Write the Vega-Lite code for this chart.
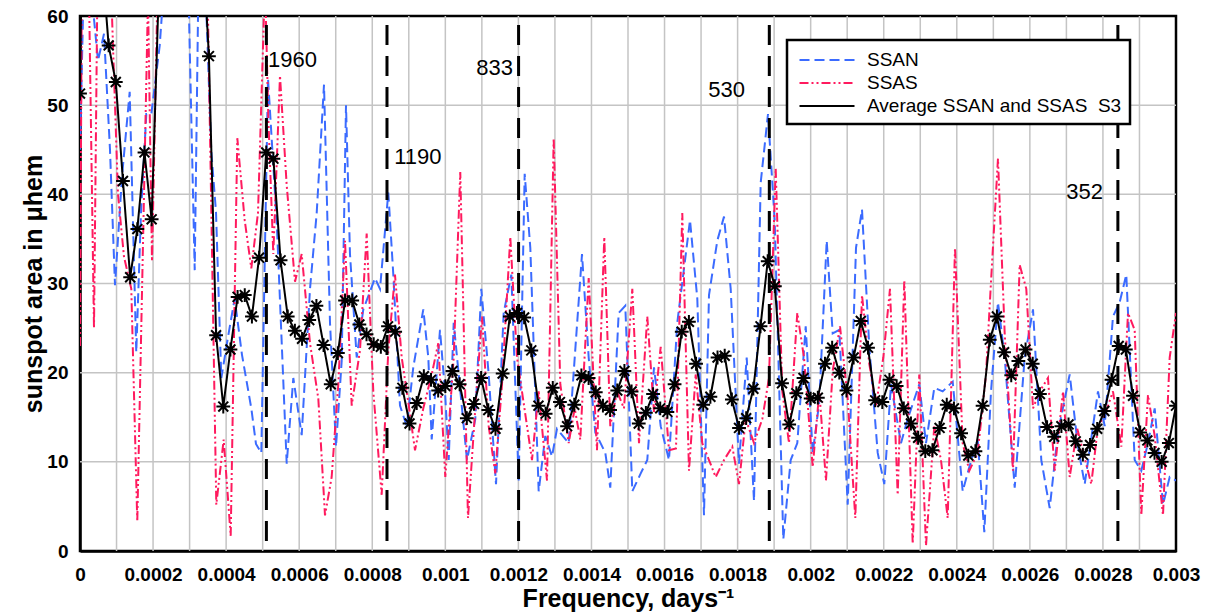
{
  "$schema": "https://vega.github.io/schema/vega-lite/v6.json",
  "width": 1096,
  "height": 535,
  "autosize": {"type": "none"},
  "padding": {"left": 80, "top": 16, "right": 39, "bottom": 64},
  "background": "white",
  "config": {
    "font": "Liberation Sans",
    "view": {"stroke": "black", "strokeWidth": 2.5},
    "axis": {
      "grid": false,
      "ticks": false,
      "domainColor": "black",
      "domainWidth": 2.5,
      "labelFont": "Liberation Sans",
      "labelFontSize": 19,
      "labelFontWeight": "bold",
      "labelColor": "black",
      "titleFont": "Liberation Sans",
      "titleFontSize": 25,
      "titleFontWeight": "bold",
      "titleColor": "black"
    },
    "legend": {
      "orient": "none",
      "legendX": 707,
      "legendY": 24,
      "strokeColor": "black",
      "strokeWidth": 2.5,
      "fillColor": "white",
      "padding": 8,
      "symbolType": "M-2.5,0L2.5,0",
      "symbolSize": 484,
      "symbolStrokeWidth": 2,
      "symbolOffset": 20,
      "labelOffset": 28,
      "labelFont": "Liberation Sans",
      "labelFontSize": 19,
      "labelColor": "black",
      "labelLimit": 400,
      "rowPadding": 1
    }
  },
  "datasets": {
    "gridX": [
      {"f":0.0001},{"f":0.0002},{"f":0.0003},{"f":0.0004},{"f":0.0005},{"f":0.0006},{"f":0.0007},{"f":0.0008},{"f":0.0009},{"f":0.001},{"f":0.0011},{"f":0.0012},{"f":0.0013},{"f":0.0014},{"f":0.0015},{"f":0.0016},{"f":0.0017},{"f":0.0018},{"f":0.0019},{"f":0.002},{"f":0.0021},{"f":0.0022},{"f":0.0023},{"f":0.0024},{"f":0.0025},{"f":0.0026},{"f":0.0027},{"f":0.0028},{"f":0.0029}
    ],
    "gridY": [{"v":10},{"v":20},{"v":30},{"v":40},{"v":50}],
    "all": [
      {"s":"SSAN","f":0,"v":45},{"s":"SSAN","f":0.0000137,"v":70},{"s":"SSAN","f":0.0000328,"v":62},{"s":"SSAN","f":0.0000493,"v":55},{"s":"SSAN","f":0.0000657,"v":58},{"s":"SSAN","f":0.0000821,"v":45},{"s":"SSAN","f":0.0000958,"v":29.8},{"s":"SSAN","f":0.000115,"v":42},{"s":"SSAN","f":0.000136,"v":51.5},{"s":"SSAN","f":0.000154,"v":22.3},{"s":"SSAN","f":0.000167,"v":38},{"s":"SSAN","f":0.0001815,"v":49},{"s":"SSAN","f":0.0001952,"v":49},{"s":"SSAN","f":0.0002182,"v":56.7},{"s":"SSAN","f":0.000241,"v":70},{"s":"SSAN","f":0.0002737,"v":75},{"s":"SSAN","f":0.0002984,"v":60},{"s":"SSAN","f":0.000314,"v":31.5},{"s":"SSAN","f":0.000323,"v":60},{"s":"SSAN","f":0.0003394,"v":68},{"s":"SSAN","f":0.0003594,"v":44.8},{"s":"SSAN","f":0.0003723,"v":38},{"s":"SSAN","f":0.0003868,"v":19.4},{"s":"SSAN","f":0.0004051,"v":24},{"s":"SSAN","f":0.0004234,"v":28.3},{"s":"SSAN","f":0.0004434,"v":22},{"s":"SSAN","f":0.0004689,"v":16},{"s":"SSAN","f":0.0004817,"v":12},{"s":"SSAN","f":0.0004963,"v":11},{"s":"SSAN","f":0.0005146,"v":53},{"s":"SSAN","f":0.0005384,"v":37},{"s":"SSAN","f":0.0005658,"v":9.8},{"s":"SSAN","f":0.0005839,"v":19.4},{"s":"SSAN","f":0.0006068,"v":13},{"s":"SSAN","f":0.0006296,"v":29.4},{"s":"SSAN","f":0.0006479,"v":37.9},{"s":"SSAN","f":0.0006679,"v":52.3},{"s":"SSAN","f":0.0006843,"v":25.6},{"s":"SSAN","f":0.0007007,"v":11.7},{"s":"SSAN","f":0.0007163,"v":21.3},{"s":"SSAN","f":0.0007281,"v":50},{"s":"SSAN","f":0.000739,"v":33.3},{"s":"SSAN","f":0.0007574,"v":21.7},{"s":"SSAN","f":0.0007755,"v":27.1},{"s":"SSAN","f":0.0008075,"v":30.6},{"s":"SSAN","f":0.0008212,"v":29.4},{"s":"SSAN","f":0.0008439,"v":40.2},{"s":"SSAN","f":0.0008576,"v":31},{"s":"SSAN","f":0.0008759,"v":16.3},{"s":"SSAN","f":0.0008943,"v":14},{"s":"SSAN","f":0.0009123,"v":20.6},{"s":"SSAN","f":0.0009397,"v":27.1},{"s":"SSAN","f":0.0009534,"v":21.7},{"s":"SSAN","f":0.0009627,"v":12.5},{"s":"SSAN","f":0.0009854,"v":24.8},{"s":"SSAN","f":0.0009991,"v":17.9},{"s":"SSAN","f":0.0010092,"v":10.2},{"s":"SSAN","f":0.0010229,"v":25.6},{"s":"SSAN","f":0.0010593,"v":10.2},{"s":"SSAN","f":0.001082,"v":14.8},{"s":"SSAN","f":0.0010984,"v":29.4},{"s":"SSAN","f":0.0011187,"v":19.8},{"s":"SSAN","f":0.0011387,"v":7.5},{"s":"SSAN","f":0.0011597,"v":26.7},{"s":"SSAN","f":0.0011806,"v":31},{"s":"SSAN","f":0.0012008,"v":7.9},{"s":"SSAN","f":0.0012172,"v":42.3},{"s":"SSAN","f":0.0012326,"v":34},{"s":"SSAN","f":0.0012555,"v":6.7},{"s":"SSAN","f":0.0012736,"v":12.9},{"s":"SSAN","f":0.001292,"v":10.6},{"s":"SSAN","f":0.0013056,"v":13.7},{"s":"SSAN","f":0.0013377,"v":12.1},{"s":"SSAN","f":0.0013741,"v":33.3},{"s":"SSAN","f":0.0013924,"v":21.7},{"s":"SSAN","f":0.0014105,"v":13.3},{"s":"SSAN","f":0.0014379,"v":11},{"s":"SSAN","f":0.0014515,"v":7.1},{"s":"SSAN","f":0.0014745,"v":26.7},{"s":"SSAN","f":0.0014926,"v":27.5},{"s":"SSAN","f":0.0015118,"v":6.7},{"s":"SSAN","f":0.0015348,"v":8.7},{"s":"SSAN","f":0.0015528,"v":10.2},{"s":"SSAN","f":0.0015712,"v":20.6},{"s":"SSAN","f":0.0015895,"v":14},{"s":"SSAN","f":0.0016122,"v":10.2},{"s":"SSAN","f":0.0016349,"v":25.6},{"s":"SSAN","f":0.0016697,"v":37.1},{"s":"SSAN","f":0.0016897,"v":28.3},{"s":"SSAN","f":0.001708,"v":4},{"s":"SSAN","f":0.0017217,"v":28.7},{"s":"SSAN","f":0.0017444,"v":34.8},{"s":"SSAN","f":0.0017628,"v":37.5},{"s":"SSAN","f":0.0017811,"v":29.4},{"s":"SSAN","f":0.0018038,"v":9.8},{"s":"SSAN","f":0.0018249,"v":21.7},{"s":"SSAN","f":0.0018449,"v":5.6},{"s":"SSAN","f":0.0018632,"v":41.3},{"s":"SSAN","f":0.0018832,"v":49},{"s":"SSAN","f":0.0019015,"v":37.1},{"s":"SSAN","f":0.0019251,"v":1.3},{"s":"SSAN","f":0.0019453,"v":10.2},{"s":"SSAN","f":0.0019634,"v":12.1},{"s":"SSAN","f":0.0019864,"v":25.2},{"s":"SSAN","f":0.0020056,"v":11},{"s":"SSAN","f":0.0020236,"v":16.7},{"s":"SSAN","f":0.0020439,"v":34.8},{"s":"SSAN","f":0.0020603,"v":24.4},{"s":"SSAN","f":0.0020784,"v":24.8},{"s":"SSAN","f":0.0021014,"v":5.2},{"s":"SSAN","f":0.0021241,"v":34},{"s":"SSAN","f":0.0021405,"v":38.3},{"s":"SSAN","f":0.0021605,"v":22.9},{"s":"SSAN","f":0.0021835,"v":11},{"s":"SSAN","f":0.0022015,"v":7.5},{"s":"SSAN","f":0.0022199,"v":18.7},{"s":"SSAN","f":0.0022472,"v":12.1},{"s":"SSAN","f":0.0022656,"v":14.8},{"s":"SSAN","f":0.0022973,"v":18.7},{"s":"SSAN","f":0.0023157,"v":12.1},{"s":"SSAN","f":0.0023384,"v":18.3},{"s":"SSAN","f":0.0023614,"v":17.9},{"s":"SSAN","f":0.0023888,"v":19},{"s":"SSAN","f":0.0024161,"v":6.7},{"s":"SSAN","f":0.0024342,"v":9.4},{"s":"SSAN","f":0.0024572,"v":12.5},{"s":"SSAN","f":0.0024753,"v":2.1},{"s":"SSAN","f":0.0024936,"v":17.9},{"s":"SSAN","f":0.0025127,"v":27.9},{"s":"SSAN","f":0.0025311,"v":21.7},{"s":"SSAN","f":0.0025585,"v":7.1},{"s":"SSAN","f":0.0025858,"v":21.7},{"s":"SSAN","f":0.0026086,"v":27.1},{"s":"SSAN","f":0.0026313,"v":10.2},{"s":"SSAN","f":0.0026543,"v":4.8},{"s":"SSAN","f":0.002677,"v":13.3},{"s":"SSAN","f":0.002709,"v":19.8},{"s":"SSAN","f":0.0027317,"v":11.7},{"s":"SSAN","f":0.0027501,"v":7.5},{"s":"SSAN","f":0.0027865,"v":17.9},{"s":"SSAN","f":0.0028048,"v":14},{"s":"SSAN","f":0.0028275,"v":26.3},{"s":"SSAN","f":0.0028459,"v":27.9},{"s":"SSAN","f":0.0028639,"v":31},{"s":"SSAN","f":0.0028869,"v":10.2},{"s":"SSAN","f":0.002905,"v":9},{"s":"SSAN","f":0.0029233,"v":12.1},{"s":"SSAN","f":0.0029417,"v":16},{"s":"SSAN","f":0.0029644,"v":5.2},{"s":"SSAN","f":0.0029827,"v":8.3},{"s":"SSAN","f":0.003,"v":7.9},
      {"s":"SSAS","f":0,"v":23},{"s":"SSAS","f":0.0000082,"v":90},{"s":"SSAS","f":0.0000219,"v":70},{"s":"SSAS","f":0.0000383,"v":25},{"s":"SSAS","f":0.0000493,"v":70},{"s":"SSAS","f":0.0000684,"v":75},{"s":"SSAS","f":0.0000876,"v":60},{"s":"SSAS","f":0.000104,"v":40},{"s":"SSAS","f":0.0001204,"v":33},{"s":"SSAS","f":0.0001404,"v":29.4},{"s":"SSAS","f":0.0001568,"v":3.3},{"s":"SSAS","f":0.0001752,"v":40},{"s":"SSAS","f":0.0001861,"v":62},{"s":"SSAS","f":0.0001971,"v":32.5},{"s":"SSAS","f":0.0002108,"v":60},{"s":"SSAS","f":0.0002272,"v":80},{"s":"SSAS","f":0.0002737,"v":90},{"s":"SSAS","f":0.0003285,"v":85},{"s":"SSAS","f":0.0003504,"v":60},{"s":"SSAS","f":0.0003731,"v":5.2},{"s":"SSAS","f":0.0003933,"v":12.5},{"s":"SSAS","f":0.0004125,"v":1.7},{"s":"SSAS","f":0.0004306,"v":46.3},{"s":"SSAS","f":0.0004508,"v":37.1},{"s":"SSAS","f":0.0004689,"v":31.7},{"s":"SSAS","f":0.0004872,"v":37.9},{"s":"SSAS","f":0.0005064,"v":64},{"s":"SSAS","f":0.0005154,"v":48.7},{"s":"SSAS","f":0.0005291,"v":33.3},{"s":"SSAS","f":0.0005474,"v":53.3},{"s":"SSAS","f":0.0005658,"v":41},{"s":"SSAS","f":0.0005885,"v":30.2},{"s":"SSAS","f":0.0006068,"v":33.3},{"s":"SSAS","f":0.0006296,"v":23.3},{"s":"SSAS","f":0.0006523,"v":17.1},{"s":"SSAS","f":0.0006706,"v":4},{"s":"SSAS","f":0.0006889,"v":8.3},{"s":"SSAS","f":0.000707,"v":18.7},{"s":"SSAS","f":0.0007254,"v":34.8},{"s":"SSAS","f":0.0007437,"v":16.3},{"s":"SSAS","f":0.0007664,"v":22.5},{"s":"SSAS","f":0.0007847,"v":35.6},{"s":"SSAS","f":0.0008028,"v":17.9},{"s":"SSAS","f":0.0008258,"v":6.3},{"s":"SSAS","f":0.0008439,"v":22.5},{"s":"SSAS","f":0.0008622,"v":31},{"s":"SSAS","f":0.0008806,"v":21.7},{"s":"SSAS","f":0.0008986,"v":16.7},{"s":"SSAS","f":0.000917,"v":11.3},{"s":"SSAS","f":0.0009397,"v":16},{"s":"SSAS","f":0.0009627,"v":19.8},{"s":"SSAS","f":0.0009807,"v":23.3},{"s":"SSAS","f":0.0009999,"v":8.3},{"s":"SSAS","f":0.0010229,"v":21.7},{"s":"SSAS","f":0.0010409,"v":42.5},{"s":"SSAS","f":0.001062,"v":3.7},{"s":"SSAS","f":0.001082,"v":16},{"s":"SSAS","f":0.0011004,"v":26.3},{"s":"SSAS","f":0.0011187,"v":14},{"s":"SSAS","f":0.0011367,"v":8.7},{"s":"SSAS","f":0.0011551,"v":18.7},{"s":"SSAS","f":0.0011778,"v":35.2},{"s":"SSAS","f":0.0011962,"v":21.7},{"s":"SSAS","f":0.0012372,"v":10.2},{"s":"SSAS","f":0.0012555,"v":17.9},{"s":"SSAS","f":0.0012783,"v":7.9},{"s":"SSAS","f":0.0012966,"v":46.3},{"s":"SSAS","f":0.0013147,"v":18.7},{"s":"SSAS","f":0.0013377,"v":12.1},{"s":"SSAS","f":0.0013541,"v":16},{"s":"SSAS","f":0.0013694,"v":12.5},{"s":"SSAS","f":0.0013924,"v":30.6},{"s":"SSAS","f":0.0014151,"v":11.3},{"s":"SSAS","f":0.0014351,"v":35.2},{"s":"SSAS","f":0.0014515,"v":14},{"s":"SSAS","f":0.0014699,"v":17.9},{"s":"SSAS","f":0.001489,"v":16},{"s":"SSAS","f":0.0015118,"v":29.4},{"s":"SSAS","f":0.0015301,"v":12.1},{"s":"SSAS","f":0.0015528,"v":26.3},{"s":"SSAS","f":0.0015712,"v":15.6},{"s":"SSAS","f":0.0015895,"v":22.9},{"s":"SSAS","f":0.0016122,"v":11.3},{"s":"SSAS","f":0.0016314,"v":11.5},{"s":"SSAS","f":0.0016486,"v":37.9},{"s":"SSAS","f":0.0016669,"v":9},{"s":"SSAS","f":0.0016853,"v":19.8},{"s":"SSAS","f":0.0017033,"v":12.1},{"s":"SSAS","f":0.0017217,"v":10.2},{"s":"SSAS","f":0.00174,"v":8.3},{"s":"SSAS","f":0.0017628,"v":10.2},{"s":"SSAS","f":0.0017855,"v":11.7},{"s":"SSAS","f":0.0018038,"v":7.5},{"s":"SSAS","f":0.0018222,"v":14.8},{"s":"SSAS","f":0.0018449,"v":12.1},{"s":"SSAS","f":0.0018676,"v":14.8},{"s":"SSAS","f":0.0018859,"v":19.4},{"s":"SSAS","f":0.0019043,"v":42.9},{"s":"SSAS","f":0.0019223,"v":17.9},{"s":"SSAS","f":0.0019407,"v":12.1},{"s":"SSAS","f":0.0019634,"v":26.7},{"s":"SSAS","f":0.0019817,"v":21.7},{"s":"SSAS","f":0.0020056,"v":9.4},{"s":"SSAS","f":0.0020236,"v":17.9},{"s":"SSAS","f":0.0020419,"v":7.9},{"s":"SSAS","f":0.0020603,"v":20.2},{"s":"SSAS","f":0.0020803,"v":25.2},{"s":"SSAS","f":0.0021014,"v":17.1},{"s":"SSAS","f":0.0021222,"v":3.7},{"s":"SSAS","f":0.0021405,"v":28.7},{"s":"SSAS","f":0.0021605,"v":21},{"s":"SSAS","f":0.0021788,"v":16.3},{"s":"SSAS","f":0.0021988,"v":21.7},{"s":"SSAS","f":0.0022171,"v":29.4},{"s":"SSAS","f":0.0022382,"v":6.3},{"s":"SSAS","f":0.0022563,"v":30.4},{"s":"SSAS","f":0.0022793,"v":0.8},{"s":"SSAS","f":0.0022973,"v":19.8},{"s":"SSAS","f":0.0023157,"v":0.6},{"s":"SSAS","f":0.0023384,"v":14},{"s":"SSAS","f":0.0023567,"v":10.2},{"s":"SSAS","f":0.0023751,"v":3.7},{"s":"SSAS","f":0.0023951,"v":34},{"s":"SSAS","f":0.0024161,"v":12.1},{"s":"SSAS","f":0.0024342,"v":9},{"s":"SSAS","f":0.0024572,"v":11},{"s":"SSAS","f":0.0024799,"v":19.8},{"s":"SSAS","f":0.0024936,"v":30.2},{"s":"SSAS","f":0.0025127,"v":44},{"s":"SSAS","f":0.0025311,"v":24.4},{"s":"SSAS","f":0.0025538,"v":9},{"s":"SSAS","f":0.0025721,"v":32.1},{"s":"SSAS","f":0.0025902,"v":29.4},{"s":"SSAS","f":0.0026086,"v":16},{"s":"SSAS","f":0.0026269,"v":17.9},{"s":"SSAS","f":0.0026496,"v":19.4},{"s":"SSAS","f":0.0026679,"v":9},{"s":"SSAS","f":0.0026907,"v":17.9},{"s":"SSAS","f":0.002709,"v":8.3},{"s":"SSAS","f":0.0027298,"v":13.7},{"s":"SSAS","f":0.0027681,"v":7.5},{"s":"SSAS","f":0.0027865,"v":14},{"s":"SSAS","f":0.0028048,"v":15.2},{"s":"SSAS","f":0.0028275,"v":17.9},{"s":"SSAS","f":0.0028503,"v":11.7},{"s":"SSAS","f":0.0028686,"v":26.7},{"s":"SSAS","f":0.0028869,"v":24.8},{"s":"SSAS","f":0.002905,"v":4},{"s":"SSAS","f":0.0029233,"v":17.5},{"s":"SSAS","f":0.0029417,"v":12.9},{"s":"SSAS","f":0.0029644,"v":4},{"s":"SSAS","f":0.0029827,"v":21.7},{"s":"SSAS","f":0.003,"v":26.7},
      {"s":"AVG","f":0,"v":51.3},{"s":"AVG","f":0.0000196,"v":120},{"s":"AVG","f":0.0000392,"v":100},{"s":"AVG","f":0.0000588,"v":67},{"s":"AVG","f":0.0000784,"v":56.7},{"s":"AVG","f":0.000098,"v":52.6},{"s":"AVG","f":0.0001176,"v":41.5},{"s":"AVG","f":0.0001373,"v":30.7},{"s":"AVG","f":0.0001569,"v":36.1},{"s":"AVG","f":0.0001765,"v":44.7},{"s":"AVG","f":0.0001961,"v":37.2},{"s":"AVG","f":0.0002157,"v":63},{"s":"AVG","f":0.0002353,"v":90},{"s":"AVG","f":0.0002549,"v":110},{"s":"AVG","f":0.0002745,"v":120},{"s":"AVG","f":0.0002941,"v":110},{"s":"AVG","f":0.0003137,"v":90},{"s":"AVG","f":0.0003333,"v":70},{"s":"AVG","f":0.0003529,"v":55.5},{"s":"AVG","f":0.0003725,"v":24.2},{"s":"AVG","f":0.0003922,"v":16.2},{"s":"AVG","f":0.0004118,"v":22.6},{"s":"AVG","f":0.0004314,"v":28.5},{"s":"AVG","f":0.000451,"v":28.7},{"s":"AVG","f":0.0004706,"v":26.3},{"s":"AVG","f":0.0004902,"v":32.9},{"s":"AVG","f":0.0005098,"v":44.7},{"s":"AVG","f":0.0005294,"v":44},{"s":"AVG","f":0.000549,"v":32.6},{"s":"AVG","f":0.0005686,"v":26.3},{"s":"AVG","f":0.0005882,"v":24.7},{"s":"AVG","f":0.0006078,"v":23.8},{"s":"AVG","f":0.0006275,"v":25.9},{"s":"AVG","f":0.0006471,"v":27.5},{"s":"AVG","f":0.0006667,"v":23.1},{"s":"AVG","f":0.0006863,"v":18.7},{"s":"AVG","f":0.0007059,"v":22.2},{"s":"AVG","f":0.0007255,"v":28.1},{"s":"AVG","f":0.0007451,"v":28.1},{"s":"AVG","f":0.0007647,"v":25.4},{"s":"AVG","f":0.0007843,"v":24.3},{"s":"AVG","f":0.0008039,"v":23.2},{"s":"AVG","f":0.0008235,"v":22.9},{"s":"AVG","f":0.0008431,"v":25.2},{"s":"AVG","f":0.0008627,"v":24.6},{"s":"AVG","f":0.0008824,"v":18.3},{"s":"AVG","f":0.000902,"v":14.3},{"s":"AVG","f":0.0009216,"v":16.6},{"s":"AVG","f":0.0009412,"v":19.6},{"s":"AVG","f":0.0009608,"v":19.2},{"s":"AVG","f":0.0009804,"v":18},{"s":"AVG","f":0.001,"v":18.5},{"s":"AVG","f":0.0010196,"v":20.2},{"s":"AVG","f":0.0010392,"v":18.7},{"s":"AVG","f":0.0010588,"v":14.9},{"s":"AVG","f":0.0010784,"v":16.5},{"s":"AVG","f":0.001098,"v":19.4},{"s":"AVG","f":0.0011176,"v":15.8},{"s":"AVG","f":0.0011373,"v":13.7},{"s":"AVG","f":0.0011569,"v":19.9},{"s":"AVG","f":0.0011765,"v":26.3},{"s":"AVG","f":0.0011961,"v":26.7},{"s":"AVG","f":0.0012157,"v":26.2},{"s":"AVG","f":0.0012353,"v":22.5},{"s":"AVG","f":0.0012549,"v":16.3},{"s":"AVG","f":0.0012745,"v":15.4},{"s":"AVG","f":0.0012941,"v":18.3},{"s":"AVG","f":0.0013137,"v":16.7},{"s":"AVG","f":0.0013333,"v":14},{"s":"AVG","f":0.0013529,"v":16.4},{"s":"AVG","f":0.0013725,"v":19.7},{"s":"AVG","f":0.0013922,"v":19.4},{"s":"AVG","f":0.0014118,"v":17.8},{"s":"AVG","f":0.0014314,"v":16.3},{"s":"AVG","f":0.001451,"v":15.8},{"s":"AVG","f":0.0014706,"v":18},{"s":"AVG","f":0.0014902,"v":20.2},{"s":"AVG","f":0.0015098,"v":17.9},{"s":"AVG","f":0.0015294,"v":14.3},{"s":"AVG","f":0.001549,"v":15.5},{"s":"AVG","f":0.0015686,"v":17.6},{"s":"AVG","f":0.0015882,"v":16},{"s":"AVG","f":0.0016078,"v":15.6},{"s":"AVG","f":0.0016275,"v":18.7},{"s":"AVG","f":0.0016471,"v":24.6},{"s":"AVG","f":0.0016667,"v":25.7},{"s":"AVG","f":0.0016863,"v":21},{"s":"AVG","f":0.0017059,"v":16.4},{"s":"AVG","f":0.0017255,"v":17.3},{"s":"AVG","f":0.0017451,"v":21.7},{"s":"AVG","f":0.0017647,"v":21.9},{"s":"AVG","f":0.0017843,"v":17},{"s":"AVG","f":0.0018039,"v":13.8},{"s":"AVG","f":0.0018235,"v":14.9},{"s":"AVG","f":0.0018431,"v":18.2},{"s":"AVG","f":0.0018627,"v":25.2},{"s":"AVG","f":0.0018824,"v":32.5},{"s":"AVG","f":0.001902,"v":29.7},{"s":"AVG","f":0.0019216,"v":18.8},{"s":"AVG","f":0.0019412,"v":14.2},{"s":"AVG","f":0.0019608,"v":17.7},{"s":"AVG","f":0.0019804,"v":19.4},{"s":"AVG","f":0.002,"v":17.1},{"s":"AVG","f":0.0020196,"v":17.2},{"s":"AVG","f":0.0020392,"v":21},{"s":"AVG","f":0.0020588,"v":22.8},{"s":"AVG","f":0.0020784,"v":20},{"s":"AVG","f":0.002098,"v":18},{"s":"AVG","f":0.0021176,"v":21.7},{"s":"AVG","f":0.0021373,"v":25.8},{"s":"AVG","f":0.0021569,"v":22.8},{"s":"AVG","f":0.0021765,"v":16.9},{"s":"AVG","f":0.0021961,"v":16.7},{"s":"AVG","f":0.0022157,"v":19.2},{"s":"AVG","f":0.0022353,"v":18.5},{"s":"AVG","f":0.0022549,"v":16},{"s":"AVG","f":0.0022745,"v":14.3},{"s":"AVG","f":0.0022941,"v":12.7},{"s":"AVG","f":0.0023137,"v":11.2},{"s":"AVG","f":0.0023333,"v":11.3},{"s":"AVG","f":0.0023529,"v":13.8},{"s":"AVG","f":0.0023725,"v":16.4},{"s":"AVG","f":0.0023922,"v":16},{"s":"AVG","f":0.0024118,"v":13.2},{"s":"AVG","f":0.0024314,"v":10.7},{"s":"AVG","f":0.002451,"v":11.2},{"s":"AVG","f":0.0024706,"v":16.3},{"s":"AVG","f":0.0024902,"v":23.7},{"s":"AVG","f":0.0025098,"v":26.3},{"s":"AVG","f":0.0025294,"v":22.3},{"s":"AVG","f":0.002549,"v":19.7},{"s":"AVG","f":0.0025686,"v":21.3},{"s":"AVG","f":0.0025882,"v":22.6},{"s":"AVG","f":0.0026078,"v":21},{"s":"AVG","f":0.0026275,"v":17.6},{"s":"AVG","f":0.0026471,"v":13.9},{"s":"AVG","f":0.0026667,"v":12.8},{"s":"AVG","f":0.0026863,"v":14},{"s":"AVG","f":0.0027059,"v":14.2},{"s":"AVG","f":0.0027255,"v":12.3},{"s":"AVG","f":0.0027451,"v":10.8},{"s":"AVG","f":0.0027647,"v":11.9},{"s":"AVG","f":0.0027843,"v":13.7},{"s":"AVG","f":0.0028039,"v":15.7},{"s":"AVG","f":0.0028235,"v":19.2},{"s":"AVG","f":0.0028431,"v":23},{"s":"AVG","f":0.0028627,"v":22.6},{"s":"AVG","f":0.0028824,"v":17.4},{"s":"AVG","f":0.002902,"v":13.3},{"s":"AVG","f":0.0029216,"v":12.4},{"s":"AVG","f":0.0029412,"v":11},{"s":"AVG","f":0.0029608,"v":10},{"s":"AVG","f":0.0029804,"v":12.1},{"s":"AVG","f":0.003,"v":16.3}
    ],
    "periods": [
      {"p": "1960", "f": 0.0005102},
      {"p": "1190", "f": 0.0008403},
      {"p": "833", "f": 0.0012005},
      {"p": "530", "f": 0.0018868},
      {"p": "352", "f": 0.0028409}
    ],
    "labelsLeft": [
      {"t": "1960", "f": 0.0005146, "v": 55.1},
      {"t": "1190", "f": 0.00086, "v": 44.2}
    ],
    "labelsRight": [
      {"t": "833", "f": 0.0011852, "v": 54.2},
      {"t": "530", "f": 0.0018202, "v": 51.7},
      {"t": "352", "f": 0.0028002, "v": 40.3}
    ]
  },
  "layer": [
    {
      "data": {"name": "gridX"},
      "mark": {"type": "rule", "color": "#c4c4c4", "strokeWidth": 1.5},
      "encoding": {
        "x": {"field": "f", "type": "quantitative"}
      }
    },
    {
      "data": {"name": "gridY"},
      "mark": {"type": "rule", "color": "#c4c4c4", "strokeWidth": 1.5},
      "encoding": {
        "y": {"field": "v", "type": "quantitative"}
      }
    },
    {
      "data": {"name": "all"},
      "mark": {"type": "line", "clip": true, "strokeWidth": 2},
      "encoding": {
        "x": {
          "field": "f", "type": "quantitative",
          "scale": {"domain": [0, 0.003], "nice": false, "zero": false},
          "axis": {
            "title": "Frequency, days\u207b\u00b9",
            "values": [0,0.0002,0.0004,0.0006,0.0008,0.001,0.0012,0.0014,0.0016,0.0018,0.002,0.0022,0.0024,0.0026,0.0028,0.003],
            "labelExpr": "format(datum.value, '~g')",
            "labelOverlap": false,
            "labelFlush": false,
            "labelPadding": 14,
            "titlePadding": 2
          }
        },
        "y": {
          "field": "v", "type": "quantitative",
          "scale": {"domain": [0, 60], "nice": false},
          "axis": {
            "title": "sunspot area in \u03bchem",
            "values": [0,10,20,30,40,50,60],
            "labelPadding": 12,
            "titlePadding": 0
          }
        },
        "color": {
          "field": "s", "type": "nominal",
          "scale": {"domain": ["SSAN", "SSAS", "AVG"], "range": ["#3B6BFF", "#FF1A5E", "#000000"]},
          "legend": {
            "title": null,
            "labelExpr": "datum.label == 'AVG' ? 'Average SSAN and SSAS \u00a0S3' : datum.label"
          }
        },
        "strokeDash": {
          "field": "s", "type": "nominal",
          "scale": {"domain": ["SSAN", "SSAS", "AVG"], "range": [[10, 5], [9, 3, 2, 3, 2, 3], [1, 0]]},
          "legend": {
            "title": null,
            "labelExpr": "datum.label == 'AVG' ? 'Average SSAN and SSAS \u00a0S3' : datum.label"
          }
        }
      }
    },
    {
      "data": {"name": "all"},
      "transform": [{"filter": "datum.s == 'AVG'"}],
      "mark": {
        "type": "point",
        "clip": true,
        "shape": "M0,-1L0,1M-0.72,-0.72L0.72,0.72M-0.72,0.72L0.72,-0.72M-1,0L1,0",
        "filled": false,
        "stroke": "black",
        "strokeWidth": 2,
        "size": 190,
        "opacity": 1
      },
      "encoding": {
        "x": {"field": "f", "type": "quantitative"},
        "y": {"field": "v", "type": "quantitative"}
      }
    },
    {
      "data": {"name": "periods"},
      "mark": {"type": "rule", "color": "black", "strokeWidth": 3, "strokeDash": [20, 11]},
      "encoding": {
        "x": {"field": "f", "type": "quantitative"},
        "y": {"datum": 59},
        "y2": {"datum": 0}
      }
    },
    {
      "data": {"name": "labelsLeft"},
      "mark": {"type": "text", "align": "left", "baseline": "middle", "fontSize": 22, "font": "Liberation Sans", "color": "black"},
      "encoding": {
        "x": {"field": "f", "type": "quantitative"},
        "y": {"field": "v", "type": "quantitative"},
        "text": {"field": "t"}
      }
    },
    {
      "data": {"name": "labelsRight"},
      "mark": {"type": "text", "align": "right", "baseline": "middle", "fontSize": 22, "font": "Liberation Sans", "color": "black"},
      "encoding": {
        "x": {"field": "f", "type": "quantitative"},
        "y": {"field": "v", "type": "quantitative"},
        "text": {"field": "t"}
      }
    }
  ]
}
